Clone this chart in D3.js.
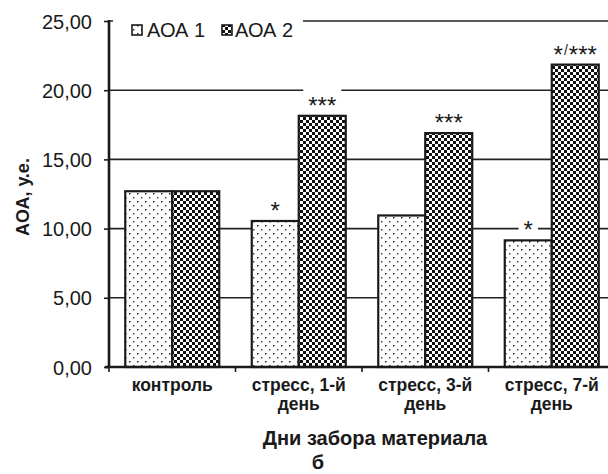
<!DOCTYPE html>
<html><head><meta charset="utf-8">
<script src="https://cdn.jsdelivr.net/npm/d3@7"></script>
<style>
html,body{margin:0;padding:0;background:#fff;}
svg{display:block;}
text{font-family:"Liberation Sans",Arial,sans-serif;fill:#1a1a1a;}
</style></head>
<body>
<svg id="chart" width="608" height="474"></svg>
<script>
const categories = [["контроль"], ["стресс, 1-й", "день"], ["стресс, 3-й", "день"], ["стресс, 7-й", "день"]];
const seriesNames = ["АОА 1", "АОА 2"];
const aoa1 = [12.7, 10.55, 10.95, 9.15];
const aoa2 = [12.7, 18.15, 16.9, 21.85];
const marks1 = ["", "*", "", "*"];
const marks2 = ["", "***", "***", "*/***"];
const yTicks = [0, 5, 10, 15, 20, 25];
const xTitle = "Дни забора материала";
const yTitle = "АОА, у.е.";
const caption = "б";

(function () {
const svg = d3.select("#chart");
const mLeft = 109, mRight = 615, mTop = 21, mBottom = 367;
const ink = "#1a1a1a";

// patterns
const defs = svg.append("defs");
const pd = defs.append("pattern").attr("id","dots").attr("patternUnits","userSpaceOnUse")
  .attr("width",8).attr("height",8).attr("x",1).attr("y",1);
pd.append("rect").attr("width",8).attr("height",8).attr("fill","#fff");
pd.append("rect").attr("x",0).attr("y",0).attr("width",1.5).attr("height",1.5).attr("fill","#222");
pd.append("rect").attr("x",4).attr("y",4).attr("width",1.5).attr("height",1.5).attr("fill","#444");
const pc = defs.append("pattern").attr("id","checker").attr("patternUnits","userSpaceOnUse")
  .attr("width",6).attr("height",6);
pc.append("rect").attr("width",6).attr("height",6).attr("fill","#fff");
pc.append("rect").attr("x",0).attr("y",0).attr("width",3).attr("height",3).attr("fill","#111");
pc.append("rect").attr("x",3).attr("y",3).attr("width",3).attr("height",3).attr("fill","#111");
const fills = ["url(#dots)", "url(#checker)"];

const x0 = d3.scaleBand().domain(d3.range(categories.length)).range([mLeft, mRight]).paddingInner(0).paddingOuter(0);
const x1 = d3.scaleBand().domain([0,1]).range([0, x0.bandwidth()]).paddingInner(0).paddingOuter(0.346);
const y = d3.scaleLinear().domain([0, 25]).range([mBottom, mTop]);

// gridlines
svg.append("g").selectAll("line").data(yTicks.filter(d => d > 0)).join("line")
  .attr("x1", mLeft).attr("x2", mRight).attr("y1", d => y(d)).attr("y2", d => y(d))
  .attr("stroke", "#222").attr("stroke-width", 1.6);

// bars
const series = [aoa1, aoa2];
const g = svg.append("g");
series.forEach((vals, si) => {
  g.selectAll(null).data(vals).join("rect")
    .attr("x", (d, i) => x0(i) + x1(si))
    .attr("y", d => y(d))
    .attr("width", x1.bandwidth())
    .attr("height", d => y(0) - y(d))
    .attr("fill", fills[si])
    .attr("stroke", ink).attr("stroke-width", 2.2);
});

// annotations with white background
const ann = svg.append("g");
const annBg = ann.append("g");
const annTx = ann.append("g");
const marks = [marks1, marks2];
marks.forEach((ms, si) => {
  ms.forEach((m, i) => {
    if (!m) return;
    const cx = x0(i) + x1(si) + x1.bandwidth() / 2;
    const base = y(series[si][i]) - 2;
    const t = annTx.append("text").attr("x", cx).attr("y", base)
      .attr("text-anchor", "middle").attr("font-size", 24);
    const parts = m.split("/");
    parts.forEach((p, k) => {
      if (k > 0) {
        t.append("tspan").attr("font-size", 14).attr("dy", -8).attr("dx", 1).text("/");
        t.append("tspan").attr("dy", 8).attr("dx", 1).text(p);
      } else {
        t.append("tspan").text(p);
      }
    });
    const bb = t.node().getBBox();
    annBg.append("rect").attr("x", bb.x - 5).attr("y", base - 25)
      .attr("width", bb.width + 10).attr("height", 25).attr("fill", "#fff");
  });
});

// y axis
const yAxis = svg.append("g").attr("transform", `translate(${mLeft},0)`)
  .call(d3.axisLeft(y).tickValues(yTicks).tickSize(5).tickPadding(12)
    .tickFormat(d => d.toFixed(2).replace(".", ",")));
yAxis.select(".domain").remove();
yAxis.selectAll(".tick line").attr("stroke", ink).attr("stroke-width", 1.6);
yAxis.selectAll(".tick text").attr("font-size", 20).attr("font-family", "Liberation Sans, Arial, sans-serif")
  .attr("fill", ink).attr("dy", "0.35em");
svg.append("line").attr("x1", mLeft).attr("x2", mLeft).attr("y1", mTop - 1).attr("y2", mBottom + 1)
  .attr("stroke", ink).attr("stroke-width", 2.6);

// x axis
svg.append("line").attr("x1", mLeft - 4).attr("x2", mRight).attr("y1", mBottom).attr("y2", mBottom)
  .attr("stroke", ink).attr("stroke-width", 2.6);
svg.append("g").selectAll("line").data(d3.range(categories.length)).join("line")
  .attr("x1", i => x0(i)).attr("x2", i => x0(i)).attr("y1", mBottom).attr("y2", mBottom + 5)
  .attr("stroke", ink).attr("stroke-width", 1.6);
const xl = svg.append("g").selectAll("text").data(categories).join("text")
  .attr("x", (d, i) => x0(i) + x0.bandwidth() / 2).attr("y", 391)
  .attr("text-anchor", "middle").attr("font-size", 17.5).attr("font-weight", "bold");
xl.each(function(lines) {
  const el = d3.select(this);
  el.selectAll("tspan").data(lines).join("tspan")
    .attr("x", el.attr("x")).attr("dy", (d, k) => k ? 19 : 0).text(d => d);
});

// titles
svg.append("text").attr("x", 375).attr("y", 445).attr("text-anchor", "middle")
  .attr("font-size", 20).attr("font-weight", "bold").text(xTitle);
svg.append("text").attr("x", 318).attr("y", 469).attr("text-anchor", "middle")
  .attr("font-size", 20).attr("font-weight", "bold").text(caption);
svg.append("text").attr("transform", "translate(29,197) rotate(-90)").attr("text-anchor", "middle")
  .attr("font-size", 18).attr("font-weight", "bold").text(yTitle);

// legend
const lg = svg.append("g");
lg.append("rect").attr("x", 113).attr("y", 10).attr("width", 190).attr("height", 34).attr("fill", "#fff");
const lx = [132, 222];
const tx = [147, 235];
seriesNames.forEach((n, i) => {
  lg.append("rect").attr("x", lx[i]).attr("y", 25).attr("width", 10).attr("height", 10)
    .attr("fill", fills[i]).attr("stroke", ink).attr("stroke-width", 1.6);
  lg.append("text").attr("x", tx[i]).attr("y", 37).attr("font-size", 20).text(n);
});
})();
</script>
</body></html>
